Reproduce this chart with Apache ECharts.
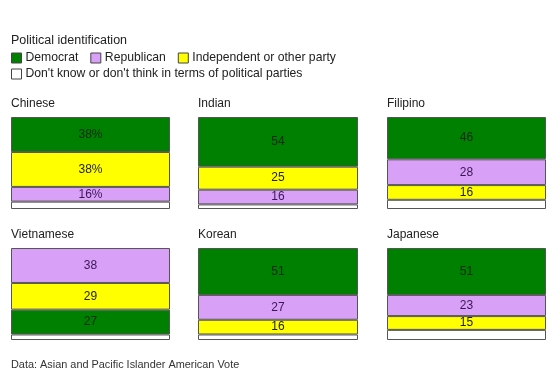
<!DOCTYPE html>
<html>
<head>
<meta charset="utf-8">
<script src="https://cdn.jsdelivr.net/npm/echarts@6/dist/echarts.min.js"></script>
<style>
  html, body { margin: 0; padding: 0; background: #fff; }
  #chart { width: 560px; height: 377px; }
</style>
</head>
<body>
<div id="chart"></div>
<script>
// panels, left to right, top to bottom
const groups = ['Chinese', 'Indian', 'Filipino', 'Vietnamese', 'Korean', 'Japanese']
const democrat = [38, 54, 46, 27, 51, 51]
const republican = [16, 16, 28, 38, 27, 23]
const independent = [38, 25, 16, 29, 16, 15]
const dontKnow = [8, 5, 10, 6, 6, 11]
// stacking order from top of each bar
const stackOrder = [
    ['dem', 'ind', 'rep', 'dk'],
    ['dem', 'ind', 'rep', 'dk'],
    ['dem', 'rep', 'ind', 'dk'],
    ['rep', 'ind', 'dem', 'dk'],
    ['dem', 'rep', 'ind', 'dk'],
    ['dem', 'rep', 'ind', 'dk']
]
const labelSuffix = ['%', '', '', '', '', '']

const FONT = 'Liberation Sans, Arial, sans-serif'

const parties = {
    dem: { name: 'Democrat', values: democrat, color: '#008000', text: '#0b2a0b' },
    rep: { name: 'Republican', values: republican, color: '#d9a0f7', text: '#3a1656' },
    ind: { name: 'Independent or other party', values: independent, color: '#ffff00', text: '#222' },
    dk: { name: "Don't know or don't think in terms of political parties", values: dontKnow, color: '#ffffff', text: '#222' }
}

const panelLeft = [11, 198, 387]
const panelWidth = [159, 160, 159]
const panelTop = [117, 248]
const panelHeight = 92

const grids = [], xAxes = [], yAxes = [], titles = [], series = []

titles.push({
    text: 'Political identification', left: 11, top: 34, padding: 0,
    textStyle: { fontFamily: FONT, fontSize: 12.5, fontWeight: 'normal', color: '#222' }
})
titles.push({
    text: 'Data: Asian and Pacific Islander American Vote', left: 11, top: 359, padding: 0,
    textStyle: { fontFamily: FONT, fontSize: 10.9, fontWeight: 'normal', color: '#333' }
})

groups.forEach((g, i) => {
    const col = i % 3
    const row = Math.floor(i / 3)
    grids.push({
        left: panelLeft[col], top: panelTop[row],
        width: panelWidth[col], height: panelHeight,
        containLabel: false
    })
    xAxes.push({ gridIndex: i, type: 'category', data: [g], show: false })
    yAxes.push({ gridIndex: i, type: 'value', min: 0, max: 100, inverse: true, show: false })
    titles.push({
        text: g, left: panelLeft[col], top: panelTop[row] - 19, padding: 0,
        textStyle: { fontFamily: FONT, fontSize: 12, fontWeight: 'normal', color: '#222' }
    })
    stackOrder[i].forEach(key => {
        const p = parties[key]
        series.push({
            name: p.name,
            type: 'bar',
            xAxisIndex: i,
            yAxisIndex: i,
            stack: 'panel' + i,
            barWidth: '100%',
            data: [p.values[i]],
            itemStyle: { color: p.color, borderColor: '#555', borderWidth: 1 },
            label: {
                show: key !== 'dk',
                position: 'inside',
                formatter: () => p.values[i] + labelSuffix[i],
                fontFamily: FONT,
                fontSize: 12,
                color: p.text
            },
            emphasis: { disabled: true },
            animation: false
        })
    })
})

const legendCommon = {
    orient: 'horizontal',
    left: 11,
    padding: 0,
    itemWidth: 10,
    itemHeight: 10,
    itemGap: 12,
    icon: 'rect',
    selectedMode: false,
    textStyle: { fontFamily: FONT, fontSize: 12.2, color: '#222', padding: [0, 0, 0, -1] },
    itemStyle: { borderColor: '#444', borderWidth: 1 }
}

const chart = echarts.init(document.getElementById('chart'))
chart.setOption({
    backgroundColor: '#fff',
    animation: false,
    title: titles,
    legend: [
        Object.assign({}, legendCommon, {
            top: 52,
            data: ['Democrat', 'Republican', 'Independent or other party']
        }),
        Object.assign({}, legendCommon, {
            top: 68,
            data: ["Don't know or don't think in terms of political parties"]
        })
    ],
    grid: grids,
    xAxis: xAxes,
    yAxis: yAxes,
    series: series
})
window.addEventListener('resize', () => chart.resize())
</script>
</body>
</html>
